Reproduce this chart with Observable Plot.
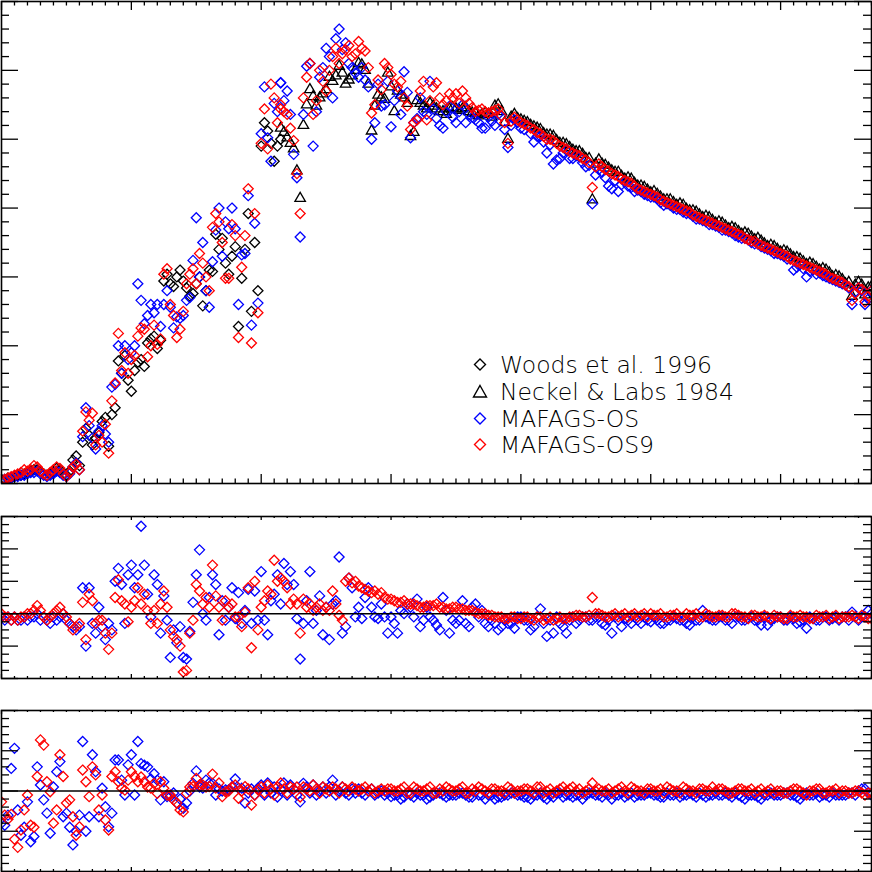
<!DOCTYPE html>
<html>
<head>
<meta charset="utf-8">
<script src="https://cdn.jsdelivr.net/npm/d3@7"></script>
<script src="https://cdn.jsdelivr.net/npm/@observablehq/plot@0.6"></script>
<style>
  html, body { margin: 0; padding: 0; background: #fff; }
  #wrap { position: relative; width: 872px; height: 872px; overflow: hidden; background: #fff; }
  .panel { position: absolute; left: 0; }
  #legend { position: absolute; left: 0; top: 0; pointer-events: none; }
</style>
</head>
<body>
<div id="wrap">
  <div class="panel" id="p1" style="top:0px"></div>
  <div class="panel" id="p2" style="top:515px"></div>
  <div class="panel" id="p3" style="top:709px"></div>
  <svg id="legend" width="872" height="872"></svg>
</div>
<script>
// ---------------- wavelength sampling grids (Å) ----------------
const wlUV = d3.range(2000, 4151, 25);      // 87 samples: Woods + models (UV)
const wlVis = d3.range(4150, 8701, 50);     // 92 samples: Neckel + models (visible)
const wlVis2 = d3.range(4175, 8700, 50);    // 91 in-between visible samples
const wlDiffA = d3.range(2000, 4976, 25);   // 120 samples, difference panels
const wlDiffB = d3.range(5000, 8701, 50);   // 75 samples, difference panels
const wlDiffB2 = d3.range(5025, 8700, 50);  // 74 in-between samples

// ---------------- top panel: absolute flux ----------------
const woodsUV = [
  0.03, 0.03, 0.04, 0.04, 0.05, 0.06, 0.06, 0.07, 0.08, 0.09,
  0.10, 0.10, 0.09, 0.07, 0.06, 0.07, 0.08, 0.11, 0.10, 0.07,
  0.06, 0.09, 0.17, 0.20, 0.13, 0.30, 0.40, 0.35, 0.28, 0.33,
  0.37, 0.45, 0.48, 0.27, 0.50, 0.55, 0.89, 0.80, 0.93, 0.75,
  0.67, 0.82, 0.88, 0.90, 0.85, 1.02, 1.05, 1.07, 0.98, 1.04,
  1.47, 1.52, 1.45, 1.43, 1.50, 1.55, 1.47, 1.42, 1.36, 1.38,
  1.45, 1.50, 1.29, 1.40, 1.55, 1.54, 1.81, 1.70, 1.78, 1.60,
  1.52, 1.65, 1.72, 1.14, 1.49, 1.70, 1.96, 1.25, 1.75, 1.40,
  2.45, 2.62, 2.56, 2.47, 2.34, 2.45, 2.50
];
const osUV = [
  0.02, 0.03, 0.03, 0.04, 0.05, 0.05, 0.06, 0.06, 0.07, 0.08,
  0.08, 0.09, 0.07, 0.06, 0.05, 0.06, 0.07, 0.09, 0.08, 0.06,
  0.05, 0.07, 0.12, 0.15, 0.10, 0.34, 0.55, 0.42, 0.33, 0.25,
  0.38, 0.42, 0.36, 0.30, 0.70, 0.72, 1.00, 0.80, 1.00, 0.90,
  0.95, 1.00, 1.45, 1.33, 1.16, 1.22, 1.30, 1.24, 1.30, 1.14,
  1.30, 1.40, 1.28, 1.13, 1.21, 1.20, 1.22, 1.33, 1.35, 1.62,
  1.93, 1.50, 1.75, 1.40, 1.28, 1.61, 1.84, 2.00, 1.65, 1.90,
  1.85, 2.00, 1.85, 1.30, 1.66, 1.67, 2.09, 1.15, 1.89, 1.31,
  2.54, 2.88, 2.51, 2.34, 2.76, 2.70, 2.91
];
const os9UV = [
  0.02, 0.03, 0.04, 0.05, 0.06, 0.07, 0.08, 0.10, 0.09, 0.10,
  0.13, 0.12, 0.09, 0.07, 0.06, 0.08, 0.10, 0.12, 0.11, 0.07,
  0.05, 0.08, 0.12, 0.14, 0.10, 0.38, 0.52, 0.46, 0.51, 0.28,
  0.35, 0.30, 0.43, 0.22, 0.60, 0.73, 1.09, 0.82, 0.95, 0.80,
  0.90, 0.93, 1.07, 1.13, 1.12, 0.92, 1.00, 1.15, 1.01, 1.05,
  1.52, 1.56, 1.30, 1.22, 1.06, 1.12, 1.25, 1.45, 1.52, 1.56,
  1.45, 1.67, 1.60, 1.50, 1.40, 1.86, 1.96, 1.90, 1.75, 1.49,
  1.49, 1.88, 1.80, 1.06, 1.57, 1.80, 2.14, 1.02, 1.96, 1.24,
  2.47, 2.72, 2.43, 2.90, 2.80, 2.62, 2.75
];
const neckelVis = [
  2.58, 2.51, 2.43, 2.07, 2.75, 2.81, 2.80, 2.86, 2.92, 3.03,
  2.90, 2.96, 3.05, 3.00, 2.56, 2.82, 2.79, 2.88, 2.85, 2.80,
  2.52, 2.78, 2.74, 2.76, 2.72, 2.70, 2.72, 2.72, 2.72, 2.70,
  2.69, 2.68, 2.68, 2.74, 2.70, 2.50, 2.68, 2.64, 2.62, 2.59,
  2.57, 2.53, 2.52, 2.47, 2.46, 2.42, 2.41, 2.36, 2.06, 2.35,
  2.31, 2.27, 2.26, 2.21, 2.21, 2.16, 2.15, 2.11, 2.10, 2.06,
  2.06, 2.02, 2.02, 1.98, 1.97, 1.93, 1.93, 1.89, 1.89, 1.85,
  1.85, 1.81, 1.81, 1.77, 1.76, 1.72, 1.72, 1.68, 1.68, 1.64,
  1.63, 1.59, 1.59, 1.55, 1.55, 1.50, 1.50, 1.45, 1.36, 1.46,
  1.37, 1.43
];
const neckelVis2 = [
  2.55, 2.47, 2.27, 2.60, 2.86, 2.74, 2.83, 2.95, 2.96, 2.98,
  2.93, 3.00, 3.04, 2.90, 2.74, 2.80, 2.98, 2.70, 2.82, 2.76,
  2.55, 2.76, 2.72, 2.74, 2.70, 2.68, 2.73, 2.71, 2.73, 2.69,
  2.67, 2.69, 2.66, 2.75, 2.62, 2.66, 2.65, 2.63, 2.60, 2.58,
  2.54, 2.53, 2.49, 2.47, 2.44, 2.41, 2.39, 2.36, 2.32, 2.32,
  2.29, 2.26, 2.23, 2.22, 2.18, 2.16, 2.13, 2.12, 2.08, 2.06,
  2.04, 2.03, 1.99, 1.98, 1.95, 1.94, 1.91, 1.90, 1.87, 1.86,
  1.83, 1.82, 1.79, 1.78, 1.74, 1.73, 1.70, 1.69, 1.66, 1.64,
  1.61, 1.60, 1.57, 1.56, 1.53, 1.51, 1.48, 1.46, 1.44, 1.44,
  1.42
];
const osVis = [
  2.91, 2.85, 2.39, 1.79, 3.03, 2.45, 2.95, 3.16, 2.80, 3.30,
  3.20, 3.02, 2.95, 2.93, 2.50, 2.90, 2.75, 2.59, 2.85, 2.99,
  2.51, 2.65, 2.70, 2.92, 2.65, 2.58, 2.74, 2.62, 2.75, 2.68,
  2.64, 2.58, 2.66, 2.60, 2.67, 2.44, 2.64, 2.58, 2.60, 2.48,
  2.52, 2.40, 2.32, 2.36, 2.42, 2.36, 2.37, 2.30, 2.03, 2.28,
  2.22, 2.14, 2.12, 2.19, 2.15, 2.13, 2.10, 2.08, 2.07, 2.02,
  2.02, 1.99, 1.97, 1.96, 1.92, 1.91, 1.88, 1.87, 1.84, 1.83,
  1.80, 1.78, 1.77, 1.74, 1.72, 1.70, 1.67, 1.66, 1.63, 1.55,
  1.59, 1.50, 1.55, 1.53, 1.50, 1.48, 1.46, 1.44, 1.30, 1.42,
  1.30, 1.40
];
const osVis2 = [
  2.78, 2.68, 2.22, 2.68, 3.05, 2.70, 3.02, 3.10, 3.23, 3.15,
  3.05, 2.98, 3.02, 2.88, 2.62, 2.74, 2.92, 2.78, 2.68, 2.84,
  2.62, 2.80, 2.68, 2.72, 2.60, 2.70, 2.66, 2.70, 2.62, 2.66,
  2.62, 2.58, 2.63, 2.68, 2.57, 2.60, 2.62, 2.57, 2.54, 2.52,
  2.48, 2.46, 2.35, 2.40, 2.36, 2.38, 2.33, 2.31, 2.24, 2.26,
  2.16, 2.20, 2.17, 2.16, 2.12, 2.12, 2.09, 2.08, 2.04, 2.03,
  2.00, 1.99, 1.96, 1.94, 1.92, 1.90, 1.88, 1.86, 1.84, 1.82,
  1.79, 1.78, 1.75, 1.74, 1.71, 1.69, 1.67, 1.65, 1.63, 1.57,
  1.56, 1.54, 1.52, 1.51, 1.49, 1.47, 1.45, 1.42, 1.39, 1.40,
  1.34
];
const os9Vis = [
  2.72, 2.68, 2.49, 1.96, 2.95, 2.68, 3.00, 2.85, 3.10, 3.05,
  3.15, 3.10, 3.21, 3.14, 2.69, 2.93, 3.05, 2.97, 2.88, 2.80,
  2.57, 2.64, 2.92, 2.78, 2.91, 2.75, 2.83, 2.83, 2.85, 2.76,
  2.70, 2.72, 2.69, 2.71, 2.67, 2.47, 2.66, 2.62, 2.60, 2.57,
  2.54, 2.50, 2.49, 2.45, 2.43, 2.40, 2.38, 2.35, 2.15, 2.32,
  2.28, 2.25, 2.23, 2.20, 2.18, 2.14, 2.12, 2.10, 2.08, 2.05,
  2.03, 2.01, 1.99, 1.97, 1.94, 1.92, 1.90, 1.88, 1.86, 1.84,
  1.82, 1.80, 1.77, 1.76, 1.73, 1.71, 1.69, 1.67, 1.65, 1.62,
  1.60, 1.58, 1.56, 1.54, 1.52, 1.49, 1.47, 1.44, 1.33, 1.42,
  1.32, 1.40
];
const os9Vis2 = [
  2.70, 2.58, 2.25, 2.80, 3.05, 2.78, 2.92, 3.00, 3.16, 3.12,
  3.18, 3.12, 3.16, 3.02, 2.75, 2.86, 3.02, 2.90, 2.92, 2.74,
  2.62, 2.85, 2.64, 2.88, 2.80, 2.78, 2.80, 2.76, 2.80, 2.73,
  2.71, 2.70, 2.70, 2.72, 2.62, 2.63, 2.64, 2.61, 2.58, 2.55,
  2.52, 2.50, 2.47, 2.44, 2.41, 2.39, 2.36, 2.33, 2.30, 2.30,
  2.27, 2.24, 2.21, 2.19, 2.16, 2.13, 2.11, 2.09, 2.06, 2.04,
  2.02, 2.00, 1.98, 1.95, 1.93, 1.91, 1.89, 1.87, 1.85, 1.83,
  1.81, 1.78, 1.76, 1.74, 1.72, 1.70, 1.68, 1.66, 1.63, 1.61,
  1.59, 1.57, 1.55, 1.53, 1.50, 1.48, 1.46, 1.43, 1.38, 1.41,
  1.36
];

// ---------------- middle panel: relative difference (%) ----------------
const midOS_A = [
  -1, -2, -1, -2, -1, -2, -2, -1, -2, -1,
  -1, 0, -2, -1, -2, -3, -1, -2, -1, 0,
  -2, -3, -4, -5, -4, 8, -10, 8, -3, -6,
  2, -4, -8, -3, -5, 10, 14, 9, -3, 12,
  15, 8, 12, 27, 15, 6, -1, 12, 9, -6,
  5.5, -2, -13.5, -5, -9, -4, -13.5, -14, -5.5, 3.5,
  12, 19.7, 0, -2, 5, 12, 9, -6.5, 4, -2,
  2, 8, -1.5, 6.5, -3, 1, 7.5, -3, 7, -2,
  13, -2, -6.5, 4, 6, 12, 3, 15.5, 9, 13,
  9, -1.5, -14, -3, 4, 13, -3, 1, 5.5, -6.5,
  2, -8, 3, 4, 17.5, -6, -4, 11, 8, -1,
  2, -1.5, 5, 8, 2, -1, -1.5, 3, -1, -6
];
const midOS_B = [
  -1, -6, 0, 2, 4.5, -2, -1, -3.5, 5, -6,
  -3, 4, -4, 3, 1, -4, -3, -4, -3, -4.5,
  -1, -2, -4, 1.5, -7, -6, -3, -6, -1, -2,
  -1, -2, -1, -3.5, -6, -2, -1.5, -3, -2, -1,
  -2.5, -2, -3, -2, -1.5, -2, -3.5, -2, 1, -1.5,
  -2, -1, -2, -1, -2, -1.5, -2, -3.5, -3.5, -1.5,
  -1, -2, -1.5, -2.5, -4.5, -1.5, -2, -1, -1.5, -2,
  -1, 0.5, -2, -1, 0
];
const midOS_B2 = [
  -3, 1, 3, -1, -4, 2, -2, -5, 1, -2,
  -2, -3, 2, -1, -3, -2, -5, -2, -3, -1,
  -2, -5, -1, -3, -2, -1, -4, -2, -3, -1,
  -2, -1, -3, -2, -1, -4, -2, -1, -3, -2,
  -1, -3, -2, -1, -2, -3, -1, -2, -1, -2,
  -1, -2, -3, -1, -2, -1, -2, -1, -2, -1,
  -2, -1, -3, -2, -1, -2, -1, -2, -1, -1,
  -2, -1, -1, 1
];
const midOS9_A = [
  0, -1, -1, -2, -1, -2, -1, -1, 0, 0,
  1, 2.5, 1, -1, -2, -1, 0, 1, 2, 0,
  -1, -3, -5, -4, -3, 3.5, -8, 6, 4, -3,
  -2, -2, -6, -11, -6, 5, 10.5, 4, 3, -2.5,
  2, 4, 8, 3, 6, 1, -3, 1, -3, 3,
  7, 2, -5, -7, -8, -10, -18, -17.5, -6, -2,
  9, 7, 3, 5, 2, 15, 5.5, 2, -2, 4,
  2, 3, -1, -1, -4, 0.5, 8, -10.5, 10, -5,
  2, 4, 7, 6, 16.5, 10, 11, 10, 8, 3,
  4.5, 3, -6, 4.5, 2, 3, 1, 2, 3, 1,
  2, 1, 7, 3, -0.5, -2, 10, 11, 9.5, 10,
  8.5, 8, 7.5, 7, 6.5, 7, 6, 6.5, 5, 4.5
];
const midOS9_B = [
  4.5, 3.5, 4, 3, 2.5, 2, 2.5, 3, 2, 1.5,
  2, 1.5, 1, 0.5, 0, -0.5, -1, -1, -1.5, -1,
  -1.5, -1, -2, -1, -1.5, -2, -1, -1.5, -1, -0.5,
  -1, 5, 0, -1, -0.5, -1, 0, -0.5, -1, 0,
  0, -0.5, -1, -0.5, 0, -1, -0.5, 0, -1, -0.5,
  -1, -0.5, -1, 0, -1, -1.5, -0.5, -1, -1, -0.5,
  -1, -1.5, -1, -0.5, -1, -1.5, -1, -0.5, -1, -1.5,
  -1, -0.5, -1.5, -1, -1.5
];
const midOS9_B2 = [
  4, 3.5, 3, 3, 2, 2.5, 2.5, 2, 1.5, 2,
  1.5, 1, 1, 0, 0, -0.5, -1, -1.5, -1, -1.5,
  -1, -1.5, -1, -2, -1, -1.5, -1.5, -1, -0.5, -1,
  -0.5, 0, -0.5, -1, 0, -0.5, -1, 0, -0.5, -1,
  -0.5, 0, -1, -0.5, -1, 0, -0.5, -1, 0, -1,
  -0.5, -1, 0, -0.5, -1, -0.5, -1, -0.5, -1.5, -1,
  -1.5, -0.5, -1, -1, -1.5, -0.5, -1, -1.5, -0.5, -1,
  -1, -1, -0.5, -1.5
];

// ---------------- bottom panel: relative difference (%) ----------------
const botOS_A = [
  -8, -8.5, -6, 5.6, 10.6, -4.7, -11, -9, -2.7, -12.6,
  -11.3, 6, 1.5, -2.2, -5.5, -10.5, 1, 4.8, 7.3, -6.4,
  -5.5, -9, -13.4, -10, -6, 12.3, -10, -6.4, 9, 4.8,
  -6.4, 0.7, -3.9, -8.9, -5.5, 7.7, 7.7, 2.7, -1, 6.5,
  9, -1, 12.3, 6.8, 6.4, 6, 3, 4.3, 2.7, -2.2,
  2.3, -1.4, -1.4, -0.5, -3, -2, -4.3, -3, 0, 1.9,
  5, 1, 0.7, 2.7, 2, 1.9, -1, 0.5, 0, 0.3,
  0.3, 1, 3, 0.7, 0.7, -3, -0.5, 0.5, -1, 0.7,
  1.5, -1, 2, -0.5, 1, -1.5, 0.5, 2, -1, 1.5,
  0.5, -1, -2.7, 1.9, 1, -0.5, 1.5, -1, 0, 1,
  -0.5, 1, 2.7, -1, 0, 1, -0.5, -1, 0.5, -0.5,
  0.5, -0.5, -1, 0, 0.5, -1, -0.5, 0, -1, -0.5
];
const botOS_B = [
  -1.4, -1, -1.5, -1, -0.5, -1, -1.5, -0.5, -1, -1,
  -1, -0.5, -1.5, 0, -1, -1, -2, -1.5, -1, -0.5,
  -1, -1.5, -1, -0.5, -2, -1.5, -0.5, -1, -1.5, -1,
  -1, -0.5, -1, -0.5, -2, -1, -1.5, -0.5, -1, -1,
  -0.5, -1, -1.5, -1, -0.5, -1, -0.5, -1.5, -1, -1,
  -0.5, -1, -1, -0.5, -1.5, -1, -1, -2, -1, -1,
  -1, -0.5, -1, -2, -0.5, -1, -1.5, -1, -0.5, -1,
  -1, -0.5, 0, 0.5, -1
];
const botOS_B2 = [
  -1, -2, -0.5, -1.5, -1, -2, -1, -0.5, -1.5, -1,
  -0.5, -1, -1.5, -1, -2, -1, -1.5, -1, -0.5, -1,
  -1.5, -2, -1, -1.5, -1, -0.5, -1.5, -1, -1, -2,
  -0.5, -1, -1.5, -1, -1, -0.5, -1, -1.5, -1, -0.5,
  -1, -1.5, -0.5, -1, -1.5, -1, -1, -0.5, -1.5, -1,
  -1, -0.5, -1.5, -1, -2, -1, -1.5, -1, -0.5, -1,
  -0.5, -1, -1.5, -1, -1, -0.5, -1, -1.5, -1, -1,
  -0.5, -1, 0.5, -0.5
];
const botOS9_A = [
  -2.7, -6, -7, -5.8, -12, -14, -9.7, -4.7, -1, -8.5,
  -9, 3.6, 12.7, 11.4, 2.3, -0.2, -8, -4.7, 9, 3.6,
  -3, -2.2, -6.4, -11, -8.9, 5.2, 2.3, -1.4, 6, 4,
  -4.7, -1, -7.2, -9.7, 3.6, 4.8, 2.3, 0.7, 0.2, 2.7,
  4.8, 3.6, 2.3, 3.5, 2.3, 1, 0.7, 1.9, -0.6, 2.3,
  0.7, -1, -1, -2.2, -3, -4.7, -5.2, -0.6, 1, 1.1,
  3.1, 1.5, 1.5, 1, 1.1, 4.2, 0.7, 2, -1.4, -0.2,
  0, 1, 1.5, -1.8, 0, 1.1, 0.5, -3.5, -1, 0.3,
  1, -0.5, 1.5, 0.5, -1, 1, 2, 0.5, -0.5, 1,
  0.5, 1, -1.5, 1, 0.5, 0, 1.5, 0.5, -0.5, 1,
  0.5, 0, 1, 0.5, -0.5, 1, 0.5, 0, 1, 0.5,
  0, 0.5, 1, 0, 0.5, -0.5, 0, 0.5, 0, 0.5
];
const botOS9_B = [
  0.5, 0, 1, -0.5, 0.5, 0, 1, -0.5, 0, 0.5,
  0, 1, -0.5, 0, 0.5, -0.5, 0.5, 0, 1, -0.5,
  0, 0.5, -0.5, 1, 0, -0.5, 0.5, 0, 1, 0.5,
  0, 2, 0.5, 0, -0.5, 0.5, 0, 1, 0, -0.5,
  0.5, 0, -0.5, 0.5, 0, 1, 0, -0.5, 0.5, 0,
  0, 0.5, -0.5, 0, 0.5, 0, -0.5, 0.5, 0, -0.5,
  0, -0.5, 0.5, 0, -1, 0, 0.5, -0.5, 0, -0.5,
  0, -0.5, 0, -1, -0.5
];
const botOS9_B2 = [
  0, 0.5, -0.5, 1, 0, 0.5, -0.5, 0.5, 1, 0,
  0.5, -0.5, 0.5, 1, 0, 0.5, 0, -0.5, 0.5, 0,
  0.5, 0, 1, -0.5, 0.5, 0, 1, 0.5, 0, -0.5,
  0.5, 0, 0, 0.5, 0, 1, -0.5, 0.5, 0, 0.5,
  0, 0.5, 1, 0, -0.5, 0.5, 0, 0.5, 0, 1,
  0.5, 0, -0.5, 0.5, 0, 0.5, 0, -0.5, 0.5, 0,
  -0.5, 0, 0.5, -0.5, 0, 0.5, -0.5, 0, 0.5, 0,
  -0.5, 0, -0.5, -0.5
];

// ---------------- legend labels ----------------
const legendLabels = ["Woods et al. 1996", "Neckel & Labs 1984", "MAFAGS-OS", "MAFAGS-OS9"];
const legendColors = ["black", "black", "blue", "red"];
const legendSymbols = ["diamond", "triangle", "diamond", "diamond"];

// ---------------- axis tick positions ----------------
const xMajorTicks = [2000, 3000, 4000, 5000, 6000, 7000, 8000];
const xMinorTicks = d3.range(2000, 8701, 100).filter(v => v % 1000 !== 0);

// ---------------- helpers ----------------
const pts = (xs, ys) => xs.map((x, i) => ({x, y: ys[i]})).filter(d => d.y != null);
const W = 872;

function panel({height, marginBottom = 1, yDomain, yMajor, yMinor, xMajLen, xMinLen, yMajLen = 17, yMinLen = 8, marks}) {
  const innerH = height - 1 - marginBottom;
  const innerW = W - 2;
  const tk = {stroke: "black", strokeWidth: 1.3};
  return Plot.plot({
    width: W, height,
    marginTop: 1, marginBottom, marginLeft: 1, marginRight: 1,
    x: {domain: [2000, 8700], axis: null},
    y: {domain: yDomain, axis: null},
    style: {background: "transparent", overflow: "visible"},
    marks: [
      ...marks,
      Plot.tickX(xMajorTicks, {x: d => d, insetTop: innerH - xMajLen, ...tk}),
      Plot.tickX(xMajorTicks, {x: d => d, insetBottom: innerH - xMajLen, ...tk}),
      Plot.tickX(xMinorTicks, {x: d => d, insetTop: innerH - xMinLen, ...tk}),
      Plot.tickX(xMinorTicks, {x: d => d, insetBottom: innerH - xMinLen, ...tk}),
      Plot.tickY(yMajor, {y: d => d, insetRight: innerW - yMajLen, ...tk}),
      Plot.tickY(yMajor, {y: d => d, insetLeft: innerW - yMajLen, ...tk}),
      Plot.tickY(yMinor, {y: d => d, insetRight: innerW - yMinLen, ...tk}),
      Plot.tickY(yMinor, {y: d => d, insetLeft: innerW - yMinLen, ...tk}),
      Plot.frame({stroke: "black", strokeWidth: 1.6})
    ]
  });
}

const dia = (data, color) => Plot.dot(data, {x: "x", y: "y", symbol: "diamond2", r: 4.5, stroke: color, strokeWidth: 1.3, clip: true});
const tri = (data, color) => Plot.dot(data, {x: "x", y: "y", symbol: "triangle2", r: 5, stroke: color, strokeWidth: 1.3, clip: true});

// ---------------- top panel ----------------
const topMajor = [0, 0.5, 1, 1.5, 2, 2.5, 3, 3.5];
const topMinor = d3.range(0, 36).filter(i => i % 5 !== 0).map(i => i / 10);
const p1 = panel({
  height: 485, marginBottom: 2,
  yDomain: [0, 3.5], yMajor: topMajor, yMinor: topMinor,
  xMajLen: 9, xMinLen: 4.5,
  marks: [
    dia(pts(wlUV, woodsUV), "black"),
    tri(pts(wlVis, neckelVis).concat(pts(wlVis2, neckelVis2)), "black"),
    dia(pts(wlUV, osUV).concat(pts(wlVis, osVis), pts(wlVis2, osVis2)), "blue"),
    dia(pts(wlUV, os9UV).concat(pts(wlVis, os9Vis), pts(wlVis2, os9Vis2)), "red")
  ]
});
document.getElementById("p1").appendChild(p1);

// ---------------- middle panel ----------------
const midMajor = [-20, -10, 0, 10, 20, 30];
const midMinor = d3.range(-20, 30.01, 2.5).filter(v => Math.abs(v % 10) > 1e-6);
const p2 = panel({
  height: 164,
  yDomain: [-20, 30], yMajor: midMajor, yMinor: midMinor,
  xMajLen: 4, xMinLen: 2,
  marks: [
    dia(pts(wlDiffA, midOS_A).concat(pts(wlDiffB, midOS_B), pts(wlDiffB2, midOS_B2)), "blue"),
    dia(pts(wlDiffA, midOS9_A).concat(pts(wlDiffB, midOS9_B), pts(wlDiffB2, midOS9_B2)), "red"),
    Plot.ruleY([0], {stroke: "black", strokeWidth: 1.5})
  ]
});
document.getElementById("p2").appendChild(p2);

// ---------------- bottom panel ----------------
const botMajor = [-20, -10, 0, 10, 20];
const botMinor = d3.range(-20, 20.01, 2).filter(v => Math.abs(v % 10) > 1e-6);
const p3 = panel({
  height: 163,
  yDomain: [-20, 20], yMajor: botMajor, yMinor: botMinor,
  xMajLen: 4, xMinLen: 2,
  marks: [
    dia(pts(wlDiffA, botOS_A).concat(pts(wlDiffB, botOS_B), pts(wlDiffB2, botOS_B2)), "blue"),
    dia(pts(wlDiffA, botOS9_A).concat(pts(wlDiffB, botOS9_B), pts(wlDiffB2, botOS9_B2)), "red"),
    Plot.ruleY([0], {stroke: "black", strokeWidth: 1.5})
  ]
});
document.getElementById("p3").appendChild(p3);

// ---------------- legend (inside the top panel) ----------------
const lg = d3.select("#legend");
const baselines = [373, 400, 427, 453];
legendLabels.forEach((label, i) => {
  const cy = baselines[i] - 8.5, cx = 480;
  if (legendSymbols[i] === "diamond") {
    lg.append("path").attr("d", `M${cx},${cy - 5.5}L${cx + 5.5},${cy}L${cx},${cy + 5.5}L${cx - 5.5},${cy}Z`)
      .attr("fill", "none").attr("stroke", legendColors[i]).attr("stroke-width", 1.4);
  } else {
    lg.append("path").attr("d", `M${cx},${cy - 6}L${cx + 6.5},${cy + 5.5}L${cx - 6.5},${cy + 5.5}Z`)
      .attr("fill", "none").attr("stroke", legendColors[i]).attr("stroke-width", 1.4);
  }
  lg.append("text").attr("x", 500).attr("y", baselines[i])
    .attr("font-family", "'DejaVu Sans', 'Liberation Sans', sans-serif")
    .attr("font-size", 23.5).attr("font-weight", 300).attr("fill", "black")
    .text(label);
});
</script>
</body>
</html>
